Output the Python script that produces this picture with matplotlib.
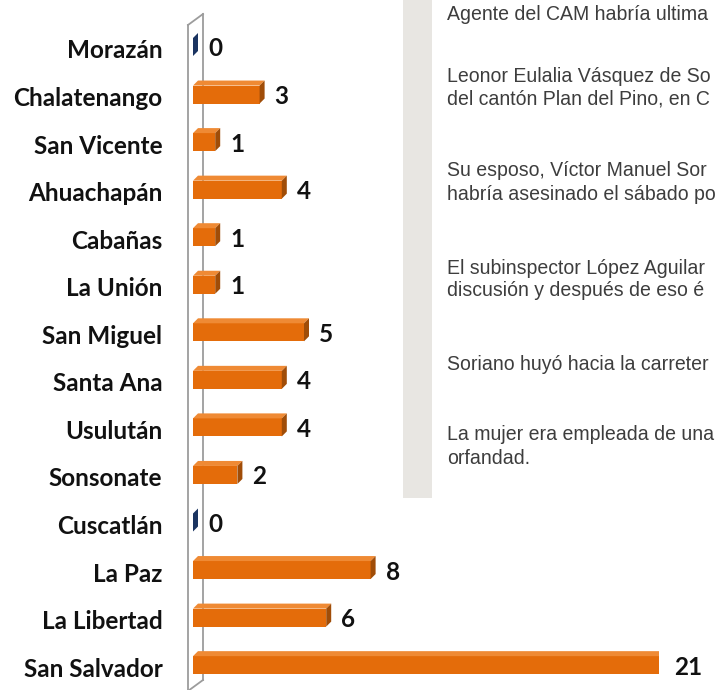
import matplotlib
matplotlib.use("Agg")
import matplotlib.pyplot as plt
from matplotlib.patches import Polygon, Rectangle
from matplotlib.lines import Line2D

departamentos = ["Morazán", "Chalatenango", "San Vicente", "Ahuachapán", "Cabañas",
                 "La Unión", "San Miguel", "Santa Ana", "Usulután", "Sonsonate",
                 "Cuscatlán", "La Paz", "La Libertad", "San Salvador"]
casos = [0, 3, 1, 4, 1, 1, 5, 4, 4, 2, 0, 8, 6, 21]

texto = [
    "Agente del CAM habría ultima",
    "Leonor Eulalia Vásquez de So",
    "del cantón Plan del Pino, en C",
    "Su esposo, Víctor Manuel Sor",
    "habría asesinado el sábado po",
    "El subinspector López Aguilar",
    "discusión y después de eso é",
    "Soriano huyó hacia la carreter",
    "La mujer era empleada de una",
    "orfandad.",
]
texto_y = [14, 76, 99, 171, 194, 268, 291, 364, 435, 458]

W, H = 719, 690
fig = plt.figure(figsize=(W / 100, H / 100), dpi=100)
fig.patch.set_facecolor("white")

# grey side panel of the article
fig.patches.append(Rectangle((403 / W, 1 - 498 / H), 29 / W, 498 / H,
                             transform=fig.transFigure, facecolor="#E8E6E2",
                             edgecolor="none", zorder=0))

# article text (font size chosen so the longest line fits the visible width)
txt_font = ["Liberation Sans", "DejaVu Sans"]
renderer = fig.canvas.get_renderer()
size = 14.5
probe = fig.text(0, 0, max(texto, key=len), fontsize=size, family=txt_font)
widest = 0
for line in texto:
    probe.set_text(line)
    widest = max(widest, probe.get_window_extent(renderer).width)
probe.remove()
size = size * min(1.0, 268 / widest)
for line, yp in zip(texto, texto_y):
    fig.text(447 / W, 1 - yp / H, line, ha="left", va="center",
             fontsize=size, color="#3d3d3d", family=txt_font)

px_per_unit = 22.2
ax = fig.add_axes([193 / W, 0, (21 * px_per_unit) / W, 1])
ax.set_xlim(0, 21)
row_px = 47.55
first = 49
ax.set_ylim((H - first) / row_px, -first / row_px)
ax.patch.set_alpha(0)
for s in ax.spines.values():
    s.set_visible(False)
ax.set_xticks([])

lab_font = ["Lato", "DejaVu Sans"]
ax.set_yticks(range(len(departamentos)))
ax.set_yticklabels(departamentos, fontsize=17.5, fontweight="bold", family=lab_font,
                   color="#111111")
ax.tick_params(axis="y", length=0, pad=22)

# 3D depth in data units
dx = 5 / px_per_unit
dy = 5 / row_px
bh = 18 / row_px
front_c = "#E46C0A"
top_c = "#EF8A34"
side_c = "#A04D08"
zero_c = "#1B3461"

# wall lines (behind bars)
wall = "#9C9C9C"
xb = 10 / px_per_unit
xf = -5 / px_per_unit
ytop_f = (25 - first) / row_px
ytop_b = (14 - first) / row_px
ybot_b = (680 - first) / row_px
ybot_f = (H - first) / row_px
kw = dict(color=wall, lw=1.3, clip_on=False, zorder=1)
ax.add_line(Line2D([xb, xb], [ytop_b, ybot_b], **kw))
ax.add_line(Line2D([xf, xf], [ytop_f, ybot_f + 1], **kw))
ax.add_line(Line2D([xf, xb], [ytop_f, ytop_b], **kw))
ax.add_line(Line2D([xb, xf], [ybot_b, ybot_b + (11 / row_px)], **kw))

offset = -2 / row_px
for i, v in enumerate(casos):
    yc = i + offset
    yt = yc - bh / 2
    yb = yc + bh / 2
    if v > 0:
        ax.barh(yc, v, height=bh, color=front_c, edgecolor="none", zorder=3)
        ax.add_patch(Polygon([(0, yt), (dx, yt - dy), (v + dx, yt - dy), (v, yt)],
                             closed=True, facecolor=top_c, edgecolor="none", zorder=3))
        ax.add_patch(Polygon([(v, yt), (v + dx, yt - dy), (v + dx, yb - dy), (v, yb)],
                             closed=True, facecolor=side_c, edgecolor="none", zorder=3))
    else:
        ax.add_patch(Polygon([(v, yt), (v + dx, yt - dy), (v + dx, yb - dy), (v, yb)],
                             closed=True, facecolor=zero_c, edgecolor="none", zorder=3))
    ax.annotate(str(v), (v + dx, i), xytext=(10, 0), textcoords="offset pixels",
                ha="left", va="center", fontsize=17.5, fontweight="bold",
                family=lab_font, color="#111111", annotation_clip=False)

fig.savefig("out.png", dpi=100)
